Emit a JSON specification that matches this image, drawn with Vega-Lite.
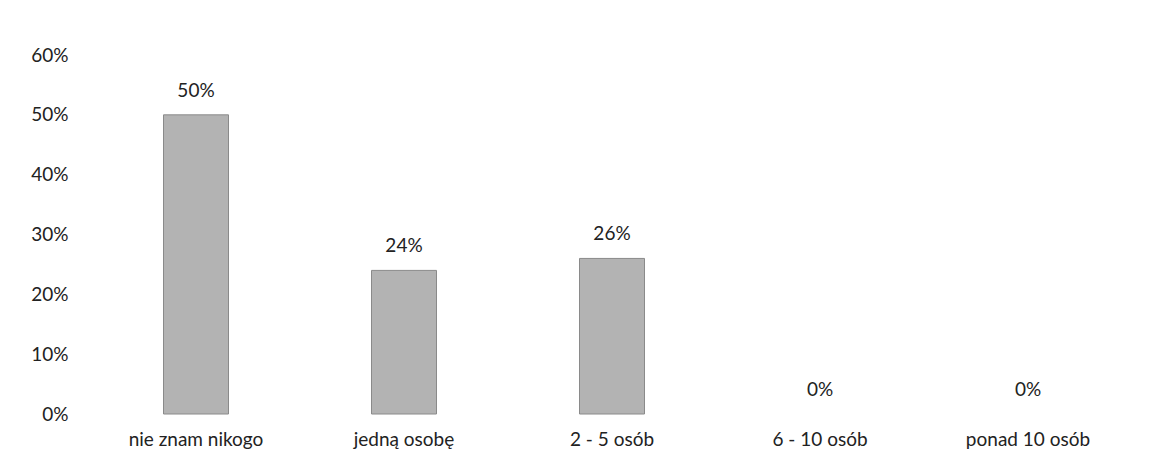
{
  "$schema": "https://vega.github.io/schema/vega-lite/v6.json",
  "autosize": "none",
  "padding": {"left": 92, "top": 55, "right": 21, "bottom": 58},
  "width": 1040,
  "height": 359,
  "background": "white",
  "config": {"view": {"stroke": null}, "font": "Lato"},
  "data": {"values": [
    {"kategoria": "nie znam nikogo", "udzial": 0.50},
    {"kategoria": "jedną osobę", "udzial": 0.24},
    {"kategoria": "2 - 5 osób", "udzial": 0.26},
    {"kategoria": "6 - 10 osób", "udzial": 0.0},
    {"kategoria": "ponad 10 osób", "udzial": 0.0}
  ]},
  "encoding": {
    "x": {"field": "kategoria", "type": "nominal", "sort": null,
      "axis": {"title": null, "labelAngle": 0, "domain": false, "ticks": false,
        "labelFontSize": 19, "labelColor": "#222", "labelPadding": 16, "labelFont": "Lato"}},
    "y": {"field": "udzial", "type": "quantitative",
      "scale": {"domain": [0, 0.6]},
      "axis": {"title": null, "format": ".0%", "values": [0, 0.1, 0.2, 0.3, 0.4, 0.5, 0.6],
        "domain": false, "ticks": false, "grid": false,
        "labelFontSize": 19, "labelColor": "#222", "labelPadding": 24, "labelFont": "Lato"}}
  },
  "layer": [
    {"mark": {"type": "bar", "size": 65, "color": "#b3b3b3", "stroke": "#8a8a8a", "strokeWidth": 1},
      "encoding": {"strokeOpacity": {"condition": {"test": "datum.udzial > 0", "value": 1}, "value": 0}}},
    {"mark": {"type": "text", "baseline": "bottom", "dy": -14, "fontSize": 19, "color": "#222", "font": "Lato"},
      "encoding": {"text": {"field": "udzial", "type": "quantitative", "format": ".0%"}}}
  ]
}
